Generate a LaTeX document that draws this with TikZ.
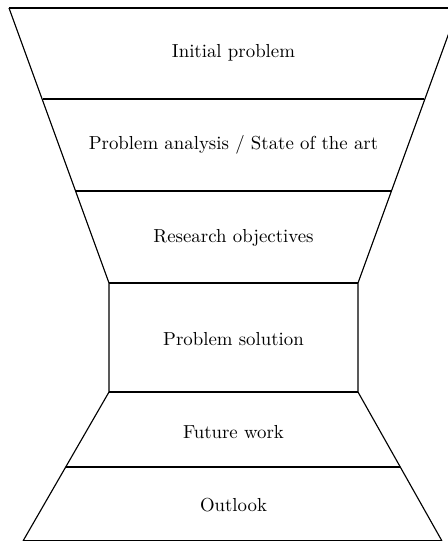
\documentclass[tikz,border=0pt]{standalone}
\usepackage{tikz}
\usetikzlibrary{positioning,calc}

\begin{document}
\begin{tikzpicture}[x=0.01866cm, y=-0.01866cm, semithick]
  \tikzset{stage/.style={align=center, inner sep=2pt}}
    \useasboundingbox (0,0) rectangle (448,541);

    % funnel narrowing down to the solution
    \coordinate (tl) at (9,8);       \coordinate (tr) at (458,8);
    \coordinate (al) at (43,99);     \coordinate (ar) at (424,99);
    \coordinate (rl) at (76,191);    \coordinate (rr) at (391,191);
    \coordinate (sl) at (109,283);   \coordinate (sr) at (358,283);
    \coordinate (bl) at (109,392);   \coordinate (br) at (358,392);
    \coordinate (fl) at (66,467);    \coordinate (fr) at (400,467);
    \coordinate (ol) at (23,541);    \coordinate (or) at (442,541);

    \draw (tl) -- (sl) -- (bl) -- (ol);
    \draw (tr) -- (sr) -- (br) -- (or);
    \draw (tl) -- (tr);
    \draw (al) -- (ar);
    \draw (rl) -- (rr);
    \draw (sl) -- (sr);
    \draw (bl) -- (br);
    \draw (fl) -- (fr);
    \draw (ol) -- (or);

    \node[stage] (init) at (233.5,53) {Initial problem};
    \node[stage] (analysis) at (233.5,145) {Problem analysis / State of the art};
    \node[stage] (objectives) at (233.5,238) {Research objectives};
    \node[stage] (solution) at (233.5,339) {Problem solution};
    \node[stage] (future) at (233.5,432) {Future work};
    \node[stage] (outlook) at (233.5,505) {Outlook};
\end{tikzpicture}
\end{document}
